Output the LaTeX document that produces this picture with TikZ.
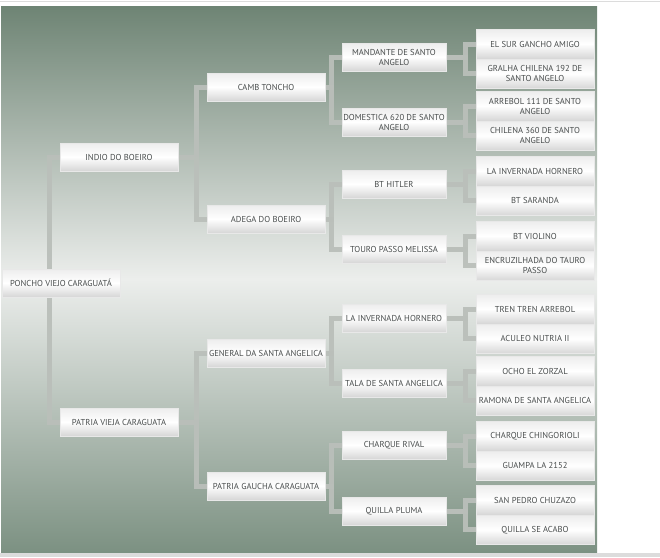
\documentclass[tikz,border=0pt]{standalone}
\usepackage{fontspec}
\setmainfont{PT Sans}
\usepackage{tikz}
\usetikzlibrary{positioning,backgrounds}
\definecolor{bgdark}{RGB}{110,132,116}
\definecolor{bgbottom}{RGB}{124,145,130}
\definecolor{bglight}{RGB}{236,238,236}
\definecolor{linkgrey}{RGB}{186,191,186}
\definecolor{textgrey}{RGB}{72,76,76}
\definecolor{rulegrey}{RGB}{220,220,220}

\begin{document}
\begin{tikzpicture}[
  x=1pt,y=-1pt,
  node distance=0pt,
  entry/.style={minimum width=118pt,minimum height=28pt,inner sep=1pt,align=center,
    font=\fontsize{8.6}{10}\selectfont,text=textgrey,draw=white!82!gray,line width=0.3pt,
    top color=gray!14,bottom color=gray!32,middle color=white},
  narrow/.style={entry,minimum width=104pt},
  leaf/.style={entry,minimum height=29.5pt},
  link/.style={draw=linkgrey,line width=5pt,opacity=0.95}
]
\useasboundingbox (0,0) rectangle (660,557);
% generation 0 and 1
\node[entry] (poncho) at (61,283) {PONCHO VIEJO CARAGUAT\'A};
\node[entry] (indio) at (119,157) {INDIO DO BOEIRO};
\node[entry] (pvieja) at (119,422) {PATRIA VIEJA CARAGUATA};
% generation 2
\node[entry] (camb) at (266,87) {CAMB TONCHO};
\node[entry] (adega) at (266,219) {ADEGA DO BOEIRO};
\node[entry] (general) at (266,353) {GENERAL DA SANTA ANGELICA};
\node[entry] (pgaucha) at (266,486) {PATRIA GAUCHA CARAGUATA};
% generation 3
\node[narrow] (mandante) at (394,57) {MANDANTE DE SANTO\\ANGELO};
\node[narrow] (domestica) at (394,122) {DOMESTICA 620 DE SANTO\\ANGELO};
\node[narrow] (hitler) at (394,184) {BT HITLER};
\node[narrow] (touro) at (394,249) {TOURO PASSO MELISSA};
\node[narrow] (invernada) at (394,318) {LA INVERNADA HORNERO};
\node[narrow] (tala) at (394,383) {TALA DE SANTA ANGELICA};
\node[narrow] (charque) at (394,445) {CHARQUE RIVAL};
\node[narrow] (qpluma) at (394,511) {QUILLA PLUMA};
% generation 4
\node[leaf] (elsur) at (535,44) {EL SUR GANCHO AMIGO};
\node[leaf,below=of elsur] (gralha) {GRALHA CHILENA 192 DE\\SANTO ANGELO};
\node[leaf] (arrebol) at (535,106) {ARREBOL 111 DE SANTO\\ANGELO};
\node[leaf,below=of arrebol] (chilena) {CHILENA 360 DE SANTO\\ANGELO};
\node[leaf] (lainvernada) at (535,171) {LA INVERNADA HORNERO};
\node[leaf,below=of lainvernada] (saranda) {BT SARANDA};
\node[leaf] (violino) at (535,236) {BT VIOLINO};
\node[leaf,below=of violino] (encruz) {ENCRUZILHADA DO TAURO\\PASSO};
\node[leaf] (tren) at (535,309) {TREN TREN ARREBOL};
\node[leaf,below=of tren] (aculeo) {ACULEO NUTRIA II};
\node[leaf] (ocho) at (535,371) {OCHO EL ZORZAL};
\node[leaf,below=of ocho] (ramona) {RAMONA DE SANTA ANGELICA};
\node[leaf] (chingo) at (535,436) {CHARQUE CHINGORIOLI};
\node[leaf,below=of chingo] (guampa) {GUAMPA LA 2152};
\node[leaf] (spedro) at (535,500) {SAN PEDRO CHUZAZO};
\node[leaf,below=of spedro] (qacabo) {QUILLA SE ACABO};
% backdrop and brackets
\begin{scope}[on background layer]
  \shade[top color=bgdark,bottom color=bgbottom,middle color=bglight] (1,6) rectangle (597,552);
  \draw[rulegrey,line width=1.5pt] (0,1.5) -- (660,1.5);
  \fill[rulegrey] (0,553) rectangle (660,557);
  \foreach \p/\a/\b in {poncho/indio/pvieja,indio/camb/adega,pvieja/general/pgaucha,
      camb/mandante/domestica,adega/hitler/touro,general/invernada/tala,pgaucha/charque/qpluma,
      mandante/elsur/gralha,domestica/arrebol/chilena,hitler/lainvernada/saranda,
      touro/violino/encruz,invernada/tren/aculeo,tala/ocho/ramona,
      charque/chingo/guampa,qpluma/spedro/qacabo}
  {
    \draw[link] (\p.east) -| ([xshift=-10pt]\a.west) -- (\a.west);
    \draw[link] (\p.east) -| ([xshift=-10pt]\b.west) -- (\b.west);
  }
\end{scope}
\end{tikzpicture}
\end{document}
